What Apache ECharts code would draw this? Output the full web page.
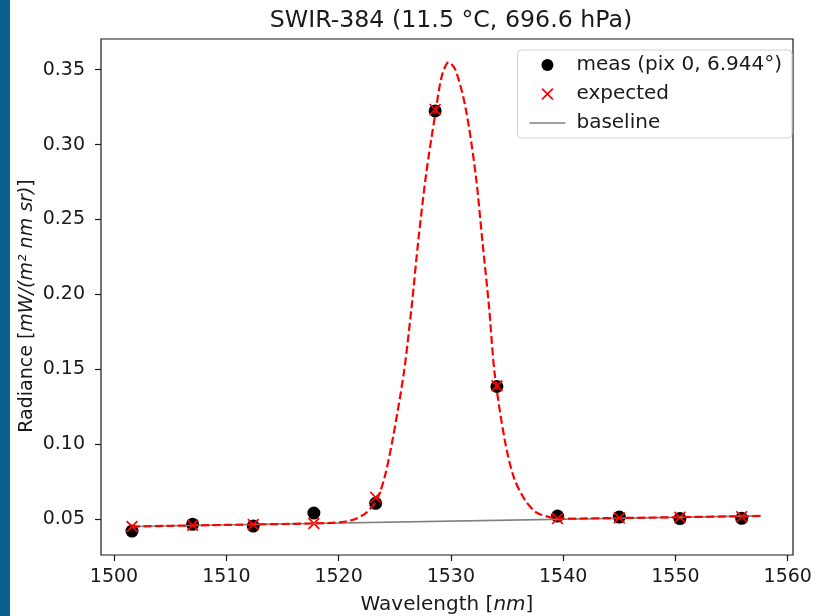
<!DOCTYPE html>
<html>
<head>
<meta charset="utf-8">
<style>html,body{margin:0;padding:0;background:#fff;}#c{width:815px;height:616px;}</style>
<script src="https://cdn.jsdelivr.net/npm/echarts@6/dist/echarts.min.js"></script>
</head>
<body>
<div id="c"></div>
<script>
// ---- data ----
const measX = [1501.6, 1507.0, 1512.4, 1517.8, 1523.3, 1528.6, 1534.1, 1539.5, 1545.0, 1550.4, 1555.9];
const measY = [0.0420, 0.0465, 0.0453, 0.0540, 0.0605, 0.3225, 0.1385, 0.0520, 0.0513, 0.0503, 0.0505];
const expX  = [1501.6, 1507.0, 1512.4, 1517.8, 1523.3, 1528.6, 1534.1, 1539.5, 1545.0, 1550.4, 1555.9];
const expY  = [0.0450, 0.0458, 0.0464, 0.0470, 0.0645, 0.3235, 0.1390, 0.0503, 0.0508, 0.0512, 0.0516];
const fitX  = [1501.6, 1505, 1510, 1515, 1519, 1520.5, 1521.5, 1522.5, 1523.4, 1524.1, 1524.8, 1525.8, 1526.5, 1527.1, 1527.8, 1528.6, 1529.2, 1529.8, 1530.4, 1531.3, 1532.2, 1532.8, 1533.4, 1533.9, 1534.8, 1535.6, 1536.6, 1537.6, 1538.7, 1540, 1545, 1550, 1557.6];
const fitY  = [0.0450, 0.0455, 0.0461, 0.0467, 0.0473, 0.0482, 0.0500, 0.0545, 0.0627, 0.0780, 0.1027, 0.1471, 0.1915, 0.2360, 0.2805, 0.3200, 0.3460, 0.3549, 0.3500, 0.3249, 0.2805, 0.2360, 0.1915, 0.1471, 0.1027, 0.0780, 0.0627, 0.0545, 0.0515, 0.0503, 0.0507, 0.0512, 0.0521];
const baseX = [1501.6, 1557.6];
const baseY = [0.0450, 0.0521];
const xTicks = [1500, 1510, 1520, 1530, 1540, 1550, 1560];
const yTicks = [0.05, 0.10, 0.15, 0.20, 0.25, 0.30, 0.35];
const titleText = 'SWIR-384 (11.5 °C, 696.6 hPa)';
const legendNames = ['meas (pix 0, 6.944°)', 'expected', 'baseline'];

const pair = (xs, ys) => xs.map((x, i) => [x, ys[i]]);
const crossPath = 'path://M1,0L5,4L9,0L10,1L6,5L10,9L9,10L5,6L1,10L0,9L4,5L0,1Z';
const linePath = 'path://M0,0H36V1.6H0Z';
const FONT = 'DejaVu Sans';
const TXT = '#1a1a1a';

const chart = echarts.init(document.getElementById('c'), null, {renderer: 'canvas'});
chart.setOption({
  animation: false,
  backgroundColor: '#fff',
  textStyle: {fontFamily: FONT},
  graphic: [{type: 'rect', shape: {x: 0, y: 0, width: 10, height: 616}, style: {fill: '#0b5f8f'}, z: 100}],
  title: {
    text: titleText, left: 446, top: 4, textAlign: 'center',
    textStyle: {fontFamily: FONT, fontSize: 23.7, fontWeight: 'normal', color: TXT}
  },
  grid: {left: 101, right: 22, top: 39, bottom: 61, show: true, borderColor: '#1a1a1a', borderWidth: 1.2,
         backgroundColor: '#fff', containLabel: false, outerBoundsMode: 'none'},
  legend: {
    orient: 'vertical', right: 23, top: 50, align: 'left',
    backgroundColor: '#fff', borderColor: '#d0d0d0', borderWidth: 1, borderRadius: 4,
    padding: [5, 10, 5, 12], itemGap: 9, itemWidth: 36, itemHeight: 12,
    textStyle: {fontFamily: FONT, fontSize: 20, color: TXT, lineHeight: 20, padding: [0, 0, 0, 6]},
    data: [
      {name: legendNames[0], icon: 'circle'},
      {name: legendNames[1], icon: crossPath},
      {name: legendNames[2], icon: linePath}
    ]
  },
  xAxis: {
    type: 'value', min: 1498.84, max: 1560.47,
    name: '{n|Wavelength [}{i|nm}{n|]}', nameLocation: 'middle', nameGap: 40,
    nameTextStyle: {rich: {n: {fontFamily: FONT, fontSize: 20, color: TXT}, i: {fontFamily: FONT, fontSize: 20, fontStyle: 'italic', color: TXT}}},
    axisLine: {show: false},
    axisTick: {show: true, inside: false, length: 6, customValues: xTicks, lineStyle: {color: TXT, width: 1.2}},
    axisLabel: {customValues: xTicks, fontFamily: FONT, fontSize: 19, color: TXT, margin: 13, formatter: v => String(v)},
    splitLine: {show: false}
  },
  yAxis: {
    type: 'value', min: 0.026, max: 0.3705,
    name: '{n|Radiance [}{i|mW/(m² nm sr)}{n|]}', nameLocation: 'middle', nameGap: 64, nameRotate: 90,
    nameMoveOverlap: false,
    nameTextStyle: {padding: [0, 18, 0, 0], rich: {n: {fontFamily: FONT, fontSize: 19, color: TXT}, i: {fontFamily: FONT, fontSize: 19, fontStyle: 'italic', color: TXT}}},
    axisLine: {show: false},
    axisTick: {show: true, inside: false, length: 6, customValues: yTicks, lineStyle: {color: TXT, width: 1.2}},
    axisLabel: {customValues: yTicks, fontFamily: FONT, fontSize: 19, color: TXT, margin: 16, formatter: v => v.toFixed(2)},
    splitLine: {show: false}
  },
  series: [
    {name: legendNames[0], type: 'scatter', data: pair(measX, measY), symbol: 'circle', symbolSize: 13,
     itemStyle: {color: '#000', opacity: 1}, z: 2},
    {name: legendNames[1], type: 'scatter', data: pair(expX, expY), symbol: crossPath, symbolSize: 12,
     itemStyle: {color: '#ff0000', opacity: 1}, z: 3},
    {name: legendNames[2], type: 'line', data: pair(baseX, baseY), symbol: 'none', showSymbol: false,
     lineStyle: {color: '#808080', width: 1.6}, itemStyle: {color: '#808080'}, z: 4},
    {name: 'fit', type: 'line', data: pair(fitX, fitY), symbol: 'none', showSymbol: false, smooth: 0.3,
     lineStyle: {color: '#ff0000', width: 2.2, type: [8, 3.5]}, z: 5}
  ]
});
</script>
</body>
</html>
